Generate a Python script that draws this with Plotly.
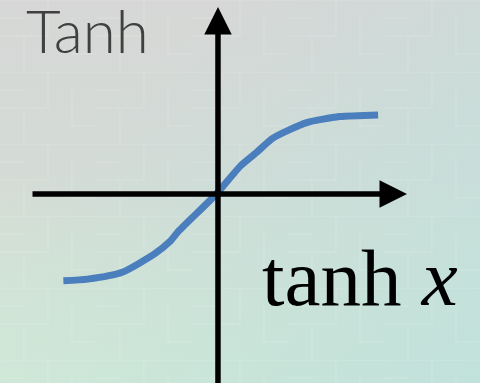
import base64
import plotly.graph_objects as go

# ---- data ----
curve_x = [-1.97, -1.66, -1.22, -0.80, -0.61, -0.50, -0.02, 0.29, 0.50, 0.70, 1.13, 1.55, 2.04]
curve_y = [-1.01, -0.99, -0.91, -0.69, -0.55, -0.43, 0.00, 0.33, 0.49, 0.65, 0.83, 0.90, 0.92]
title_text = "Tanh"
label_text = "tanh <i>x</i>"

# ---- layout constants ----
W, H = 480, 383
X_RANGE = [-2.777, 3.338]
Y_RANGE = [-2.198, 2.256]
H_AXIS = (-2.382, 2.408)   # start, arrow tip
V_AXIS = (-2.40, 2.174)    # start, arrow tip

svg = f'''<svg xmlns="http://www.w3.org/2000/svg" width="{W}" height="{H}" viewBox="0 0 {W} {H}">
<defs>
<linearGradient id="v" x1="0" y1="0" x2="0" y2="1">
<stop offset="0" stop-color="#d6d7d6"/>
<stop offset="0.45" stop-color="#d4dbd6"/>
<stop offset="1" stop-color="#d4ebd5"/>
</linearGradient>
<linearGradient id="d" x1="0.2" y1="0.3" x2="1" y2="1">
<stop offset="0" stop-color="#c0dfdc" stop-opacity="0"/>
<stop offset="1" stop-color="#bfe0dc" stop-opacity="0.9"/>
</linearGradient>
<pattern id="p" width="96" height="72" patternUnits="userSpaceOnUse">
<path d="M0 0H96M0 36H48M48 0V36M24 36V72M72 18V54M72 54H96M0 18H24" stroke="#ffffff" stroke-opacity="0.09" stroke-width="2" fill="none"/>
</pattern>
</defs>
<rect width="{W}" height="{H}" fill="url(#v)"/>
<rect width="{W}" height="{H}" fill="url(#d)"/>
<rect width="{W}" height="{H}" fill="url(#p)"/>
</svg>'''
bg_uri = "data:image/svg+xml;base64," + base64.b64encode(svg.encode()).decode()

fig = go.Figure()
fig.add_trace(go.Scatter(
    x=curve_x, y=curve_y, mode="lines",
    line=dict(color="#4a7ebd", width=7, shape="spline", smoothing=0.6),
    hoverinfo="skip", showlegend=False,
))

arrow_common = dict(xref="x", yref="y", axref="x", ayref="y", text="",
                    showarrow=True, arrowhead=2, arrowsize=1.0,
                    arrowwidth=5.5, arrowcolor="#000000")
fig.add_annotation(x=H_AXIS[1], y=0, ax=H_AXIS[0], ay=0, **arrow_common)
fig.add_annotation(x=0, y=V_AXIS[1], ax=0, ay=V_AXIS[0], **arrow_common)

fig.add_annotation(xref="paper", yref="paper", x=24 / W, y=1 - 30 / H,
                   xanchor="left", yanchor="middle", text=title_text, showarrow=False,
                   font=dict(family="Lato", size=60, color="#404040", weight=300))
fig.add_annotation(xref="paper", yref="paper", x=260 / W, y=1 - 278 / H,
                   xanchor="left", yanchor="middle", text=label_text, showarrow=False,
                   font=dict(family="Liberation Serif", size=81, color="#000000"))

fig.update_layout(
    width=W, height=H, autosize=False,
    margin=dict(l=0, r=0, t=0, b=0),
    paper_bgcolor="#d5dcd6", plot_bgcolor="rgba(0,0,0,0)",
    xaxis=dict(range=X_RANGE, visible=False, fixedrange=True),
    yaxis=dict(range=Y_RANGE, visible=False, fixedrange=True),
    images=[dict(source=bg_uri, xref="paper", yref="paper", x=0, y=1,
                 sizex=1, sizey=1, sizing="stretch", layer="below",
                 xanchor="left", yanchor="top")],
    showlegend=False,
)

fig.write_html("out.html", config={"displayModeBar": False},
               post_script="document.body.style.margin='0';document.body.style.overflow='hidden';")
